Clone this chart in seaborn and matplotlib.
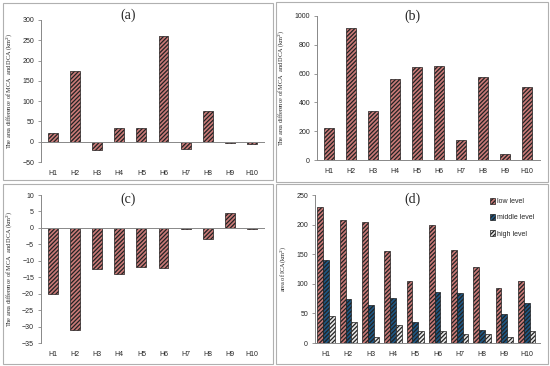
"""MCA / DCA 면적 차이 4분할 막대그래프"""
import matplotlib.pyplot as plt
import matplotlib.patches as mpatches
import numpy as np
import pandas as pd
import seaborn as sns

sns.set_style("white")
plt.rcParams["font.family"] = ["Liberation Sans", "DejaVu Sans"]
plt.rcParams["hatch.linewidth"] = 0.9

cats = ["H1", "H2", "H3", "H4", "H5", "H6", "H7", "H8", "H9", "H10"]
diff_a = [22, 175, -20, 33, 35, 260, -18, 76, -3, -6]
diff_b = [222, 918, 340, 560, 643, 650, 140, 578, 42, 510]
diff_c = [-20, -31, -12.5, -14, -12, -12.3, -0.2, -3.5, 4.5, -0.2]
low_level = [230, 207, 204, 156, 104, 200, 157, 128, 93, 105]
middle_level = [140, 75, 65, 76, 35, 86, 85, 22, 49, 67]
high_level = [46, 36, 10, 31, 21, 21, 16, 16, 10, 21]

W, H = 550, 366
fig = plt.figure(figsize=(5.5, 3.66), dpi=100)


def px_axes(l, t, r, b):
    return fig.add_axes([l / W, (H - b) / H, (r - l) / W, (b - t) / H])


# 패널 테두리
for (l, t, r, b) in [(3, 3, 273, 180), (276, 2, 548, 182), (3, 184, 273, 364), (276, 184, 548, 364)]:
    fig.patches.append(mpatches.Rectangle((l / W, (H - b) / H), (r - l) / W, (b - t) / H,
                                          transform=fig.transFigure, fill=False,
                                          edgecolor="#b0b0b0", linewidth=0.8))

RED = "#c97a78"
HATCH = "////////"
ylab = "The area difference of MCA  and DCA (km$^2$)"


def style(ax, ticks, lim, zero_line=False):
    ax.set_ylim(*lim)
    ax.set_yticks(ticks)
    ax.set_xlim(-0.55, 9.6)
    sns.despine(ax=ax, top=True, right=True)
    ax.spines["left"].set_color("#888888")
    ax.spines["left"].set_linewidth(0.7)
    ax.spines["bottom"].set_color("#888888")
    ax.spines["bottom"].set_linewidth(0.7)
    if zero_line:
        ax.spines["bottom"].set_visible(False)
        ax.axhline(0, color="#888888", lw=0.7)
    ax.tick_params(axis="y", labelsize=5, length=2, width=0.6, color="#888888", pad=3, left=True)
    ax.tick_params(axis="x", labelsize=5, length=0, pad=6)
    ax.set_xlabel("")
    ax.grid(False)


def panel_title(ax, text, x, y):
    ax.text(x, y, text, transform=ax.transAxes, fontsize=10, family="Liberation Serif",
            ha="center", va="center")


def single(ax, vals, ticks, lim, zero_line):
    df = pd.DataFrame({"cat": cats, "val": vals})
    sns.barplot(data=df, x="cat", y="val", color=RED, edgecolor="#222222", linewidth=0.5,
                width=0.45, hatch=HATCH, saturation=1, ax=ax)
    style(ax, ticks, lim, zero_line)
    ax.set_ylabel(ylab, fontsize=4.5, family="Liberation Serif", labelpad=6)


ax_a = px_axes(41, 20, 265, 162)
single(ax_a, diff_a, np.arange(-50, 301, 50), (-50, 300), True)
panel_title(ax_a, "(a)", 0.39, 1.035)

ax_b = px_axes(317, 16, 540, 160)
single(ax_b, diff_b, np.arange(0, 1001, 200), (0, 1000), False)
panel_title(ax_b, "(b)", 0.43, 1.0)

ax_c = px_axes(41, 195, 265, 343)
single(ax_c, diff_c, np.arange(-35, 11, 5), (-35, 10), True)
panel_title(ax_c, "(c)", 0.39, 0.973)

ax_d = px_axes(315, 195, 540, 343)
levels = ["low level", "middle level", "high level"]
df_d = pd.DataFrame({
    "cat": cats * 3,
    "val": low_level + middle_level + high_level,
    "level": [levels[0]] * 10 + [levels[1]] * 10 + [levels[2]] * 10,
})
sns.barplot(data=df_d, x="cat", y="val", hue="level", palette=[RED, "#1f5783", "#e8e8e8"],
            edgecolor="#222222", linewidth=0.5, width=0.78, saturation=1, ax=ax_d)
for bar in ax_d.patches:
    bar.set_hatch(HATCH)
style(ax_d, np.arange(0, 251, 50), (0, 250))
ax_d.set_xlim(-0.5, 9.6)
ax_d.set_ylabel("area of ICA(km$^2$)", fontsize=4.5, family="Liberation Serif", labelpad=6)
panel_title(ax_d, "(d)", 0.435, 0.973)
leg = ax_d.legend(loc="upper right", bbox_to_anchor=(1.0, 1.02), fontsize=5, frameon=False,
                  handlelength=0.8, handleheight=0.8, handletextpad=0.2, labelspacing=1.3)

fig.savefig("out.png", dpi=100)
